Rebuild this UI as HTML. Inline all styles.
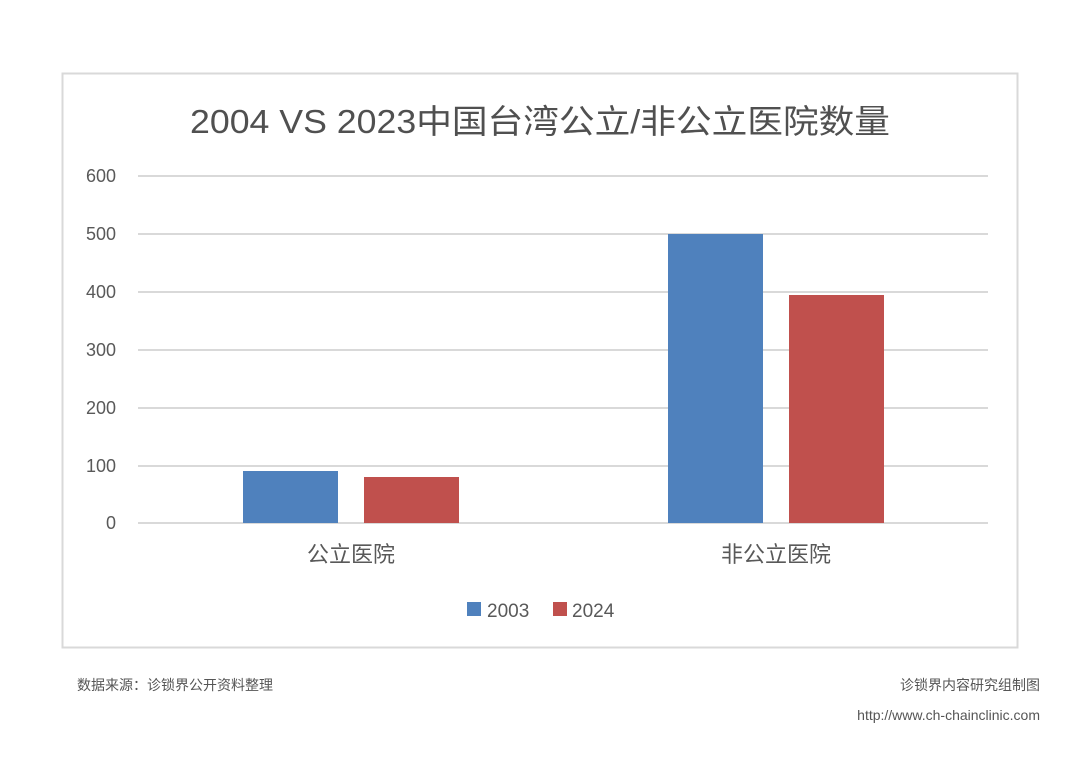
<!DOCTYPE html>
<html><head><meta charset="utf-8"><style>
body{margin:0;width:1080px;height:758px;background:#fff;overflow:hidden;font-family:"Liberation Sans","Noto Sans CJK SC",sans-serif}
</style></head><body>
<svg width="1080" height="758" style="position:absolute;left:0;top:0" font-family="Liberation Sans, Noto Sans CJK SC, sans-serif">
<rect x="62.5" y="73.5" width="955" height="574" fill="#fff" stroke="#d9d9d9" stroke-width="2"/>
<text x="540" y="133" text-anchor="middle" font-size="33" fill="#505050" textLength="700" lengthAdjust="spacingAndGlyphs">2004 VS 2023中国台湾公立/非公立医院数量</text>
<g stroke="#d9d9d9" stroke-width="2">
<line x1="138" x2="988" y1="176" y2="176"/><line x1="138" x2="988" y1="234" y2="234"/>
<line x1="138" x2="988" y1="292" y2="292"/><line x1="138" x2="988" y1="350" y2="350"/>
<line x1="138" x2="988" y1="408" y2="408"/><line x1="138" x2="988" y1="466" y2="466"/>
<line x1="138" x2="988" y1="523" y2="523"/></g>
<g font-size="18" fill="#595959" text-anchor="end">
<text x="116" y="182">600</text><text x="116" y="240">500</text><text x="116" y="298">400</text>
<text x="116" y="356">300</text><text x="116" y="414">200</text><text x="116" y="472">100</text><text x="116" y="529">0</text></g>
<rect x="243" y="471" width="95" height="52" fill="#4f81bd"/>
<rect x="364" y="477" width="95" height="46" fill="#c0504d"/>
<rect x="668" y="234" width="95" height="289" fill="#4f81bd"/>
<rect x="789" y="295" width="95" height="228" fill="#c0504d"/>
<g font-size="22" fill="#595959" text-anchor="middle">
<text x="351" y="562">公立医院</text><text x="776" y="562">非公立医院</text></g>
<rect x="467" y="602" width="14" height="14" fill="#4f81bd"/>
<text x="487" y="617" font-size="19" fill="#595959">2003</text>
<rect x="553" y="602" width="14" height="14" fill="#c0504d"/>
<text x="572" y="617" font-size="19" fill="#595959">2024</text>
<text x="77" y="690" font-size="14" fill="#555">数据来源：诊锁界公开资料整理</text>
<text x="1040" y="690" font-size="14" fill="#555" text-anchor="end">诊锁界内容研究组制图</text>
<text x="1040" y="720" font-size="14" fill="#555" text-anchor="end">http://www.ch-chainclinic.com</text>
</svg>
</body></html>
